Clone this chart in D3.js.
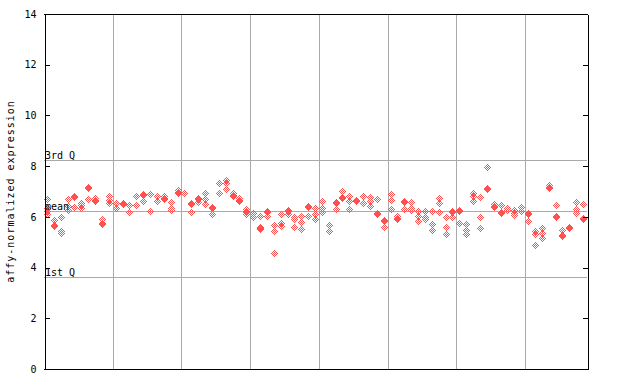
<!DOCTYPE html>
<html>
<head>
<meta charset="utf-8">
<script src="https://cdn.jsdelivr.net/npm/d3@7/dist/d3.min.js"></script>
<style>
  html, body { margin: 0; padding: 0; background: #fff; }
  svg { display: block; }
  text { font-family: "DejaVu Sans Mono", monospace; font-size: 10px; fill: #000; }
</style>
</head>
<body>
<svg id="chart" width="640" height="384"></svg>
<script>
// ---- data ----
// one entry per sample (79 samples), each with the probe values of that sample
const expression = [
  [6.69, 6.34, 6.20, 6.10],
  [5.84, 5.61, 5.65],
  [5.98, 5.44, 5.33],
  [6.69, 6.40, 6.27],
  [6.76, 6.80, 6.38],
  [6.53, 6.44, 6.34],
  [7.10, 7.14, 6.69],
  [6.73, 6.64, 6.60],
  [5.90, 5.69, 5.73],
  [6.80, 6.66, 6.53],
  [6.53, 6.34],
  [6.48, 6.52],
  [6.43, 6.18],
  [6.82, 6.43],
  [6.85, 6.89, 6.60],
  [6.89, 6.22],
  [6.80, 6.60],
  [6.80, 6.70, 6.74],
  [6.56, 6.27, 6.31],
  [7.03, 6.93, 6.97],
  [6.93],
  [6.48, 6.52, 6.18],
  [6.69, 6.73, 6.57],
  [6.93, 6.69, 6.50],
  [6.32, 6.36, 6.10],
  [7.30, 6.93],
  [7.45, 7.30, 7.09],
  [6.93, 6.85, 6.81],
  [6.73, 6.64, 6.60],
  [6.30, 6.18, 6.22, 6.11],
  [6.14, 5.98],
  [6.03, 5.55, 5.59, 5.49],
  [6.18, 6.22, 6.03],
  [5.64, 5.44, 4.56],
  [6.11, 5.72, 5.61],
  [6.20, 6.24, 6.11],
  [5.98, 5.88, 5.59],
  [6.03, 5.79, 5.51],
  [6.38, 6.42, 6.03],
  [6.34, 6.11, 5.90],
  [6.60, 6.34, 6.18],
  [5.64, 5.41],
  [6.53, 6.57, 6.30],
  [7.01, 6.76, 6.72],
  [6.80, 6.60, 6.30],
  [6.60, 6.64],
  [6.80, 6.53],
  [6.76, 6.60, 6.40],
  [6.69, 6.11, 6.15],
  [5.81, 5.85, 5.59],
  [6.87, 6.64, 6.30],
  [6.01, 5.88, 5.92],
  [6.56, 6.60, 6.30],
  [6.56, 6.34, 6.24],
  [6.20, 6.01, 5.81],
  [6.20, 5.98, 5.88],
  [6.20, 5.68, 5.45],
  [6.73, 6.53, 6.18],
  [5.98, 5.59, 5.32],
  [6.18, 6.22, 5.98],
  [6.20, 6.24, 5.72],
  [5.68, 5.45, 5.32],
  [6.93, 6.80, 6.60],
  [6.77, 5.98, 5.55],
  [7.95, 7.09, 7.13],
  [6.47, 6.38, 6.42],
  [6.43, 6.14, 6.18],
  [6.27, 6.31],
  [6.27, 6.14, 6.05],
  [6.36, 6.20],
  [6.10, 6.14, 5.81],
  [5.41, 5.32, 4.89],
  [5.55, 5.35, 5.15],
  [7.22, 7.11, 7.15],
  [6.43, 5.97, 6.01],
  [5.48, 5.22, 5.26],
  [5.53, 5.57],
  [6.57, 6.30, 6.14],
  [6.50, 5.90, 5.94]
];
const groupBreaks = [10, 20, 30, 40, 50, 60, 70];
const yTicks = [0, 2, 4, 6, 8, 10, 12, 14];
const refLabels = ["3rd Q", "mean", "1st Q"];
const refValues = [8.24, 6.22, 3.62];

// ---- layout ----
const plotL = 44, plotR = 587, plotT = 14, plotB = 369;
const color = "#ff4f4f";
const gridColor = "#aaaaaa";

const svg = d3.select("#chart");

const x = d3.scaleBand()
  .domain(d3.range(expression.length))
  .range([plotL, plotR])
  .padding(0);
const y = d3.scaleLinear().domain([0, 14]).range([plotB, plotT]);

const g = svg.append("g").attr("shape-rendering", "crispEdges");

// vertical group separators
g.selectAll("line.vgrid")
  .data(groupBreaks)
  .join("line")
  .attr("class", "vgrid")
  .attr("x1", d => Math.round(x(d)) + 0.5)
  .attr("x2", d => Math.round(x(d)) + 0.5)
  .attr("y1", plotT)
  .attr("y2", plotB)
  .attr("stroke", gridColor)
  .attr("stroke-width", 1);

// reference lines (quartiles and mean)
g.selectAll("line.hgrid")
  .data(refValues)
  .join("line")
  .attr("class", "hgrid")
  .attr("x1", plotL)
  .attr("x2", plotR)
  .attr("y1", d => Math.round(y(d)) + 0.5)
  .attr("y2", d => Math.round(y(d)) + 0.5)
  .attr("stroke", gridColor)
  .attr("stroke-width", 1);

// points: pixel checkered diamonds
function diamondPath(cx, cy) {
  let p = "";
  for (let dy = -3; dy <= 3; dy++) {
    const span = 3 - Math.abs(dy);
    for (let dx = -span; dx <= span; dx++) {
      if (((dx + dy) % 2 + 2) % 2 === 1) {
        p += `M${cx + dx},${cy + dy}h1v1h-1z`;
      }
    }
  }
  return p;
}
const pts = [];
expression.forEach((vals, i) => {
  vals.forEach(v => pts.push({ i, v }));
});
g.append("g")
  .selectAll("path")
  .data(pts)
  .join("path")
  .attr("d", d => {
    const cx = Math.floor(x(d.i) + x.bandwidth() / 2);
    const cy = Math.floor(y(d.v));
    return diamondPath(cx, cy);
  })
  .attr("fill", color);

// reference labels
svg.selectAll("text.ref")
  .data(refValues)
  .join("text")
  .attr("class", "ref")
  .attr("x", plotL + 1)
  .attr("y", d => Math.round(y(d)) - 1)
  .text((d, i) => refLabels[i]);

// axes
const axL = d3.axisLeft(y).tickValues(yTicks).tickSizeInner(-5).tickSizeOuter(0).tickPadding(8);
const axR = d3.axisRight(y).tickValues(yTicks).tickSizeInner(-5).tickSizeOuter(0).tickFormat("");

const gl = svg.append("g").attr("transform", `translate(${plotL + 0.5},0)`).call(axL);
const gr = svg.append("g").attr("transform", `translate(${plotR + 0.5},0)`).call(axR);
[gl, gr].forEach(a => {
  a.attr("shape-rendering", "crispEdges");
  a.selectAll("path,line").attr("stroke", "#000");
  a.selectAll("text").attr("font-family", "DejaVu Sans Mono").attr("font-size", 10).attr("fill", "#000");
});

// top and bottom border
svg.append("line").attr("x1", plotL).attr("x2", plotR + 1).attr("y1", plotT + 0.5).attr("y2", plotT + 0.5)
  .attr("stroke", "#000").attr("shape-rendering", "crispEdges");
svg.append("line").attr("x1", plotL).attr("x2", plotR + 1).attr("y1", plotB + 0.5).attr("y2", plotB + 0.5)
  .attr("stroke", "#000").attr("shape-rendering", "crispEdges");

// y title
svg.append("text")
  .attr("transform", `translate(14,${(plotT + plotB) / 2}) rotate(-90)`)
  .attr("text-anchor", "middle")
  .style("letter-spacing", "1px")
  .text("affy-normalized expression");
</script>
</body>
</html>
